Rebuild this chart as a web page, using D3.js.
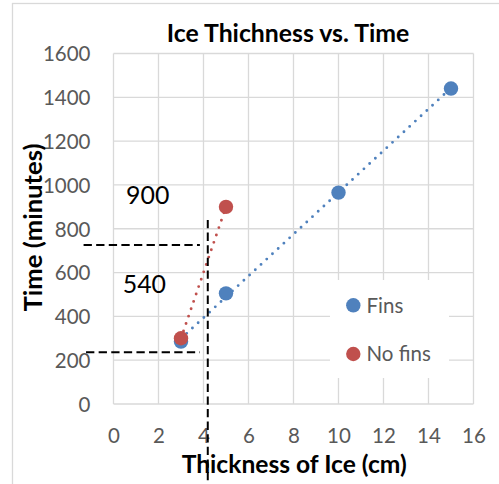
<!DOCTYPE html>
<html><head><meta charset="utf-8">
<script src="https://cdn.jsdelivr.net/npm/d3@7"></script>
<style>
html,body{margin:0;padding:0;background:#fff;}
svg{display:block;}
text{font-family:Lato,"Open Sans",sans-serif;}
</style></head>
<body>
<script>
// ---- data ----
const finsX = [3, 5, 10, 15];
const finsY = [285, 505, 965, 1440];
const noFinsX = [3, 5];
const noFinsY = [300, 900];
const xTicks = [0, 2, 4, 6, 8, 10, 12, 14, 16];
const yTicks = [0, 200, 400, 600, 800, 1000, 1200, 1400, 1600];
const seriesNames = ["Fins", "No fins"];
const titleText = "Ice Thichness vs. Time";
const xTitle = "Thickness of Ice (cm)";
const yTitle = "Time (minutes)";
// hand-drawn reading guides (data units)
const guideH = [{x1: -1.33, x2: 3.84, y: 726}, {x1: -1.22, x2: 3.84, y: 236}];
const guideV = [{x: 4.19, y1: 840, y2: -380}];
const noteLabels = [{text: "900", x: 0.56, y: 913}, {text: "540", x: 0.41, y: 508}];

const W = 499, H = 484;
const m = {left: 113.5, right: W - 473.5, top: 53.5, bottom: H - 404};
const colors = ["#4F81BD", "#C0504D"];
const grid = "#d9d9d9";

const svg = d3.select("body").append("svg").attr("width", W).attr("height", H);

// outer chart border
svg.append("rect").attr("x", 12.5).attr("y", 3.5).attr("width", W).attr("height", H)
  .attr("fill", "#fff").attr("stroke", grid).attr("stroke-width", 1.3);

const x = d3.scaleLinear().domain([0, 16]).range([m.left, W - m.right]);
const y = d3.scaleLinear().domain([0, 1600]).range([H - m.bottom, m.top]);

// gridlines
svg.append("g").selectAll("line").data(xTicks).join("line")
  .attr("x1", d => x(d)).attr("x2", d => x(d)).attr("y1", y(0)).attr("y2", y(1600))
  .attr("stroke", grid).attr("stroke-width", 1.3);
svg.append("g").selectAll("line").data(yTicks).join("line")
  .attr("y1", d => y(d)).attr("y2", d => y(d)).attr("x1", x(0)).attr("x2", x(16))
  .attr("stroke", grid).attr("stroke-width", 1.3);

// axes labels via d3 axes (domain/ticks hidden)
const xAxis = svg.append("g").attr("transform", `translate(0,${y(0)})`)
  .call(d3.axisBottom(x).tickValues(xTicks).tickFormat(d3.format("d")).tickSize(0).tickPadding(0));
xAxis.select(".domain").remove();
xAxis.selectAll("text").attr("font-size", 20.5).attr("fill", "#595959")
  .attr("font-family", "Lato").attr("dy", null).attr("y", 39);

const yAxis = svg.append("g").attr("transform", `translate(${x(0)},0)`)
  .call(d3.axisLeft(y).tickValues(yTicks).tickFormat(d3.format("d")).tickSize(0).tickPadding(0));
yAxis.select(".domain").remove();
yAxis.selectAll("text").attr("font-size", 20.5).attr("fill", "#595959")
  .attr("font-family", "Lato").attr("x", -23).attr("dy", "0.36em");

// trendlines (linear least squares)
function fit(xs, ys) {
  const n = xs.length, mx = d3.mean(xs), my = d3.mean(ys);
  let sxy = 0, sxx = 0;
  for (let i = 0; i < n; i++) { sxy += (xs[i]-mx)*(ys[i]-my); sxx += (xs[i]-mx)**2; }
  const b = sxy / sxx, a = my - b * mx;
  return [d3.min(xs), d3.max(xs)].map(v => [v, a + b * v]);
}
const series = [
  {name: seriesNames[0], xs: finsX, ys: finsY, c: colors[0]},
  {name: seriesNames[1], xs: noFinsX, ys: noFinsY, c: colors[1]}
];
const line = d3.line().x(d => x(d[0])).y(d => y(d[1]));
series.forEach(s => {
  svg.append("path").attr("d", line(fit(s.xs, s.ys))).attr("fill", "none")
    .attr("stroke", s.c).attr("stroke-width", 2.9).attr("stroke-linecap", "round")
    .attr("stroke-dasharray", "0 7.8");
});
series.forEach(s => {
  svg.append("g").selectAll("circle").data(s.xs.map((v, i) => [v, s.ys[i]])).join("circle")
    .attr("cx", d => x(d[0])).attr("cy", d => y(d[1])).attr("r", 7.2).attr("fill", s.c);
});

// legend
const lg = svg.append("g");
lg.append("rect").attr("x", 330).attr("y", 280).attr("width", 119).attr("height", 98).attr("fill", "#fff");
series.forEach((s, i) => {
  const cy = 305.3 + i * 48.7;
  lg.append("circle").attr("cx", 353.3).attr("cy", cy).attr("r", 7.2).attr("fill", s.c);
  lg.append("text").attr("x", 366.5).attr("y", cy).attr("dy", "0.36em")
    .attr("font-size", 20.5).attr("fill", "#595959").text(s.name);
});

// guides
svg.append("g").selectAll("line").data(guideH).join("line")
  .attr("x1", d => x(d.x1)).attr("x2", d => x(d.x2)).attr("y1", d => y(d.y)).attr("y2", d => y(d.y))
  .attr("stroke", "#000").attr("stroke-width", 2).attr("stroke-dasharray", "8.3 4.3");
svg.append("g").selectAll("line").data(guideV).join("line")
  .attr("x1", d => x(d.x)).attr("x2", d => x(d.x)).attr("y1", d => y(d.y1)).attr("y2", d => y(d.y2))
  .attr("stroke", "#000").attr("stroke-width", 2).attr("stroke-dasharray", "8.3 4.3");

// fit text width helper
function fitWidth(t, target) {
  const w = t.node().getComputedTextLength();
  const fs = parseFloat(t.attr("font-size"));
  t.attr("font-size", (fs * target / w).toFixed(2));
}
svg.append("g").selectAll("text").data(noteLabels).join("text")
  .attr("x", d => x(d.x)).attr("y", d => y(d.y)).attr("font-size", 25).attr("fill", "#000").text(d => d.text)
  .each(function () { fitWidth(d3.select(this), 43.3); });

// titles
const tt = svg.append("text").attr("x", (166.7 + 409.3) / 2).attr("y", 42.3).attr("text-anchor", "middle")
  .attr("font-weight", "bold").attr("font-size", 22).attr("fill", "#000").text(titleText);
fitWidth(tt, 242.6);
const xt = svg.append("text").attr("x", (181.7 + 406.7) / 2).attr("y", 472.5).attr("text-anchor", "middle")
  .attr("font-weight", "bold").attr("font-size", 20).attr("fill", "#000").text(xTitle);
fitWidth(xt, 225);
const yt = svg.append("text").attr("transform", `translate(41.5,${(143.3 + 311.7) / 2}) rotate(-90)`)
  .attr("text-anchor", "middle").attr("font-weight", "bold").attr("font-size", 20).attr("fill", "#000").text(yTitle);
fitWidth(yt, 168);
</script>
</body></html>
